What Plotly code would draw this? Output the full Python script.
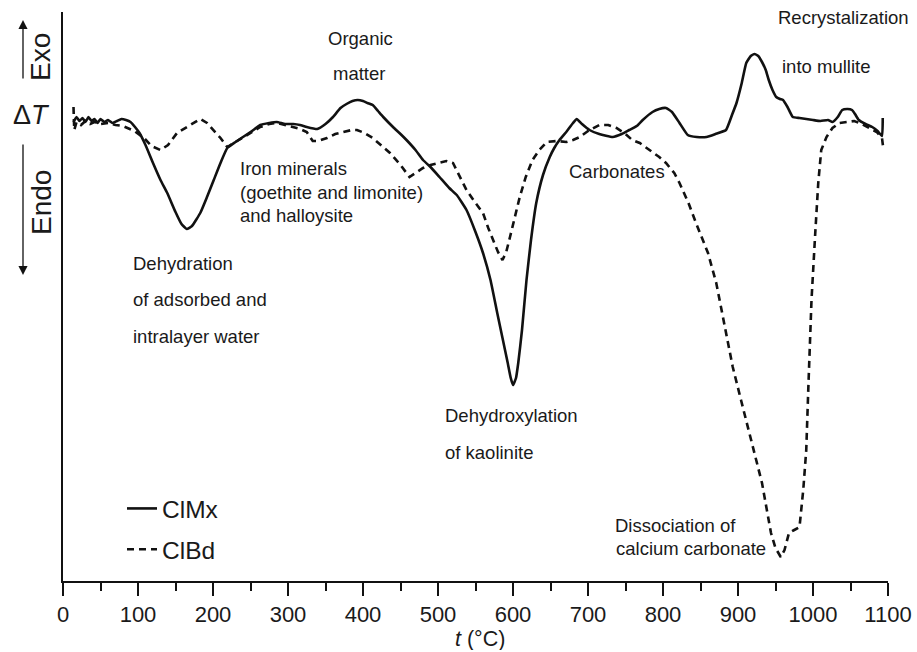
import plotly.graph_objects as go

# ---------------- data (ΔT in arbitrary units) ----------------
t_clmx = [14, 18, 22, 26, 30, 34, 38, 42, 46, 50, 55, 60, 66, 72, 78, 84, 90, 96, 102, 110,
          120, 130, 139, 150, 158, 165, 172, 183, 192, 201, 210, 219, 230, 240, 252, 263, 275,
          285, 296, 307, 316, 325, 339, 350, 360, 370, 378, 386, 393, 400, 406, 413, 420, 427,
          440, 450, 458, 470, 480, 490, 502, 515, 525, 538, 550, 560, 570, 579, 586, 593, 597,
          600, 604, 607, 612, 618, 624, 631, 640, 649, 655, 662, 672, 680, 685, 692, 702, 715,
          733, 745, 755, 765, 773, 786, 795, 804, 812, 822, 833, 845, 858, 870, 884, 892, 898,
          905, 911, 917, 922, 927, 932, 937, 941, 946, 951, 956, 960, 966, 973, 982, 991, 1000,
          1010, 1020, 1026, 1033, 1039, 1046, 1052, 1056, 1061, 1070, 1079, 1086, 1092, 1093]
dt_clmx = [-0.2, 0.3, -0.1, 0.2, -0.2, 0.3, -0.1, 0.1, -0.3, 0.1, -0.2, 0.0, -0.3, -0.1, 0.1,
           0.0, -0.2, -0.7, -1.3, -2.5, -4.3, -6.0, -7.3, -9.2, -10.4, -10.9, -10.6, -9.3, -7.7,
           -6.0, -4.3, -2.8, -2.2, -1.7, -1.1, -0.5, -0.3, -0.2, -0.4, -0.4, -0.5, -0.7, -0.9,
           -0.4, 0.3, 1.2, 1.6, 1.9, 2.0, 1.9, 1.7, 1.5, 0.9, 0.3, -0.7, -1.4, -2.0, -3.0, -4.0,
           -4.7, -5.7, -6.8, -7.5, -9.0, -11.2, -13.3, -16.0, -19.3, -21.8, -24.3, -25.8, -26.5,
           -25.8, -24.3, -21.0, -16.0, -12.0, -8.3, -5.5, -3.7, -2.8, -2.0, -1.1, -0.3, 0.1,
           -0.4, -1.0, -1.4, -1.7, -1.4, -1.0, -0.6, 0.0, 0.8, 1.1, 1.2, 0.8, -0.3, -1.5, -1.7,
           -1.7, -1.4, -1.0, 0.5, 1.7, 3.7, 5.7, 6.4, 6.6, 6.4, 5.8, 5.0, 4.0, 3.0, 2.3, 2.1,
           2.0, 1.3, 0.3, 0.2, 0.1, 0.0, -0.1, 0.0, -0.2, 0.3, 1.0, 1.1, 1.0, 0.6, 0.0, -0.4,
           -0.7, -1.1, -1.6, 0.2]

t_clbd = [14, 15, 18, 24, 30, 36, 42, 50, 60, 70, 80, 86, 95, 108, 118, 130, 140, 152, 165,
          175, 183, 192, 201, 210, 219, 230, 240, 252, 263, 275, 285, 296, 307, 316, 325, 333,
          340, 352, 363, 374, 385, 392, 402, 413, 425, 436, 450, 462, 470, 480, 490, 502, 511,
          520, 530, 538, 550, 560, 567, 573, 580, 586, 591, 596, 602, 609, 617, 626, 635, 645,
          658, 671, 680, 689, 700, 715, 727, 738, 750, 759, 769, 782, 795, 804, 815, 822, 834,
          844, 860, 871, 882, 893, 904, 915, 924, 932, 938, 944, 950, 957, 962, 968, 975, 982,
          987, 991, 994, 998, 1003, 1007, 1011, 1018, 1026, 1035, 1045, 1055, 1065, 1075, 1085,
          1092, 1094]
dt_clbd = [1.3, -1.0, -0.2, -0.5, -0.1, -0.4, -0.2, -0.4, -0.3, -0.5, -0.6, -0.8, -1.1, -1.8,
           -2.6, -3.0, -2.5, -1.3, -0.7, -0.2, 0.1, -0.3, -1.0, -1.8, -2.7, -2.2, -1.7, -1.2,
           -0.7, -0.4, -0.3, -0.5, -0.7, -0.9, -1.2, -2.1, -2.1, -1.8, -1.4, -1.2, -1.0, -1.0,
           -1.3, -1.8, -2.6, -3.3, -4.5, -5.7, -5.3, -4.8, -4.5, -4.3, -4.1, -4.3, -5.8, -7.0,
           -8.3, -9.3, -10.8, -12.0, -13.2, -14.0, -13.2, -11.7, -9.7, -7.7, -5.7, -4.0, -3.0,
           -2.2, -2.1, -2.2, -2.0, -1.7, -1.1, -0.5, -0.5, -0.8, -1.4, -2.0, -2.3, -3.0, -3.7,
           -4.3, -5.3, -6.3, -8.3, -10.3, -13.3, -16.3, -20.5, -24.7, -28.0, -31.3, -33.8,
           -36.3, -38.8, -41.3, -42.8, -43.7, -43.0, -41.3, -41.0, -40.7, -37.0, -33.0, -26.3,
           -18.0, -11.3, -6.3, -3.0, -1.7, -0.8, -0.3, -0.2, -0.1, -0.4, -0.8, -1.2, -1.8, -3.0]

x_ticks = [0, 100, 200, 300, 400, 500, 600, 700, 800, 900, 1000, 1100]

# ---------------- layout helpers (pixel -> paper) ----------------
W, H = 917, 652
L, R, T, B = 63, 888, 12, 581


def px(x):
    return (x - L) / (R - L)


def py(y):
    return (B - y) / (B - T)


FONT = "Liberation Sans, Arial, sans-serif"

fig = go.Figure()
fig.add_trace(go.Scatter(x=t_clmx, y=dt_clmx, mode="lines", name="ClMx",
                         line=dict(color="#111111", width=2.6, shape="spline", smoothing=0.4),
                         legendgroup="a"))
fig.add_trace(go.Scatter(x=t_clbd, y=dt_clbd, mode="lines", name="ClBd",
                         line=dict(color="#111111", width=2.6, dash="7px,5px"), legendgroup="b"))

ann = []


def txt(s, x, y, anchor="left", size=18.5):
    ann.append(dict(text=s, x=px(x), y=py(y), xref="paper", yref="paper", showarrow=False,
                    xanchor=anchor, yanchor="middle", font=dict(size=size, color="#1a1a1a", family=FONT)))


txt("Organic", 360, 38, "center")
txt("matter", 359, 73, "center")
txt("Recrystalization", 776, 17)
txt("into mullite", 780, 67)
txt("Iron minerals", 238, 168)
txt("(goethite and limonite)", 238, 192)
txt("and halloysite", 238, 215)
txt("Carbonates", 567, 172)
txt("Dehydration", 131, 263)
txt("of adsorbed and", 131, 299)
txt("intralayer water", 131, 336)
txt("Dehydroxylation", 443, 415)
txt("of kaolinite", 443, 452)
txt("Dissociation of", 738, 525, "right")
txt("calcium carbonate", 768, 548, "right")

# x-axis title
ann.append(dict(text="<i>t</i> (°C)", x=px(480), y=py(652), xref="paper", yref="paper",
                showarrow=False, xanchor="center", yanchor="bottom", height=22,
                font=dict(size=21.5, color="#1a1a1a", family=FONT)))

# y-axis side labels
ann.append(dict(text="Exo", x=px(41), y=py(57), xref="paper", yref="paper", showarrow=False,
                textangle=-90, xanchor="center", yanchor="middle",
                font=dict(size=28, color="#1a1a1a", family=FONT)))
ann.append(dict(text="Endo", x=px(41), y=py(203), xref="paper", yref="paper", showarrow=False,
                textangle=-90, xanchor="center", yanchor="middle",
                font=dict(size=28, color="#1a1a1a", family=FONT)))
ann.append(dict(text="Δ<i>T</i>", x=px(31), y=py(115), xref="paper", yref="paper", showarrow=False,
                xanchor="center", yanchor="middle",
                font=dict(size=27, color="#1a1a1a", family=FONT)))
# arrows
ann.append(dict(text="", x=px(23), y=py(20), xref="paper", yref="paper", showarrow=True,
                ax=0, ay=60, arrowhead=2, arrowsize=1.4, arrowwidth=1.3, arrowcolor="#111111"))
ann.append(dict(text="", x=px(23), y=py(275), xref="paper", yref="paper", showarrow=True,
                ax=0, ay=-132, arrowhead=2, arrowsize=1.4, arrowwidth=1.3, arrowcolor="#111111"))

fig.update_layout(
    width=W, height=H,
    margin=dict(l=L, r=W - R, t=T, b=H - B, pad=0, autoexpand=False),
    paper_bgcolor="white", plot_bgcolor="white",
    font=dict(family=FONT, color="#1a1a1a"),
    showlegend=True,
    legend=dict(x=px(122), y=py(486), xanchor="left", yanchor="top",
                bgcolor="rgba(0,0,0,0)", font=dict(size=24.5, family=FONT, color="#1a1a1a"),
                tracegroupgap=6),
    annotations=ann,
    xaxis=dict(range=[0, 1100], tickvals=x_ticks, ticktext=[str(v) for v in x_ticks],
               automargin=False,
               showline=True, linecolor="#111111", linewidth=2, ticks="outside",
               ticklen=13, tickwidth=1.6, tickcolor="#111111", showgrid=False, zeroline=False,
               tickfont=dict(size=22, family=FONT, color="#1a1a1a"),
               minor=dict(dtick=50, tick0=0, ticks="outside", ticklen=8, tickwidth=1.6,
                          tickcolor="#111111", showgrid=False)),
    yaxis=dict(range=[-46.1, 10.8], showline=True, linecolor="#111111", linewidth=2,
               automargin=False,
               showticklabels=False, ticks="", showgrid=False, zeroline=False),
)

fig.write_html("out.html")
